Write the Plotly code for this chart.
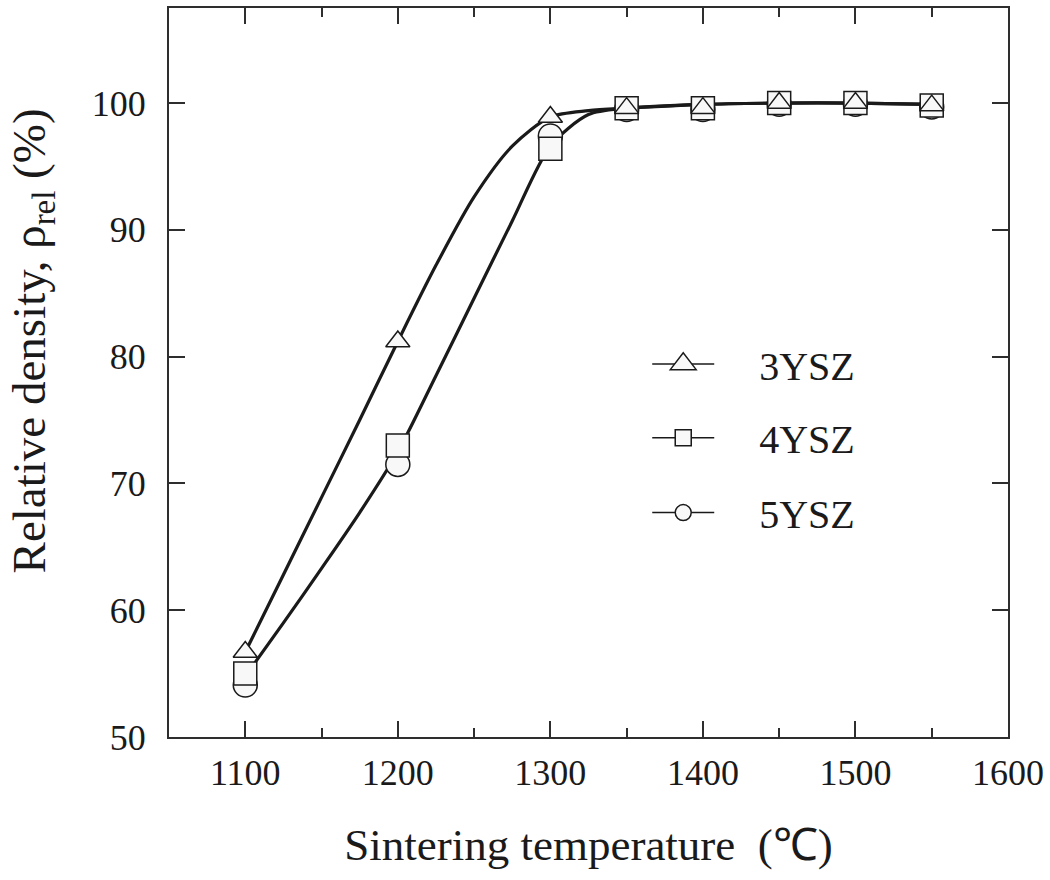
import plotly.graph_objects as go

# ---- data ----
temps = [1100, 1200, 1300, 1350, 1400, 1450, 1500, 1550]
ysz3 = [56.7, 81.2, 98.9, 99.6, 99.6, 100.0, 100.0, 99.8]
ysz4 = [55.0, 73.0, 96.4, 99.6, 99.6, 100.0, 100.0, 99.8]
ysz5 = [54.1, 71.5, 97.4, 99.5, 99.5, 99.9, 99.9, 99.7]

# smooth guide curves
curve_t = [1100, 1125, 1150, 1175, 1200, 1225, 1250, 1275, 1300, 1325, 1350, 1400, 1450, 1500, 1550]
curve_upper = [56.7, 62.8, 68.9, 75.0, 81.2, 87.2, 92.6, 96.6, 98.9, 99.4, 99.6, 99.9, 100.0, 100.0, 99.9]
curve_lower = [54.8, 59.0, 63.3, 67.7, 72.5, 78.5, 84.6, 90.7, 96.6, 99.1, 99.6, 99.9, 100.0, 100.0, 99.9]

x_ticks = [1100, 1200, 1300, 1400, 1500, 1600]
x_minor = [1150, 1250, 1350, 1450, 1550]
y_ticks = [50, 60, 70, 80, 90, 100]

FONT = "Liberation Serif, Times New Roman, serif"
INK = "#1a1a1a"
AX = "#2e2e2e"
FILL = "#f8f8f8"
NB = "\u00a0" * 4

fig = go.Figure()

for yv in (curve_upper, curve_lower):
    fig.add_trace(go.Scatter(
        x=curve_t, y=yv, mode="lines",
        line=dict(color=INK, width=3.2, shape="spline", smoothing=0.8),
        showlegend=False, hoverinfo="skip"))

series = [
    ("5YSZ", ysz5, "circle", 24, "legend3"),
    ("4YSZ", ysz4, "square", 23, "legend2"),
    ("3YSZ", ysz3, "triangle-up", 21, "legend"),
]
for name, yv, sym, sz, lg in series:
    fig.add_trace(go.Scatter(
        x=temps, y=yv, mode="markers", name=name,
        marker=dict(symbol=sym, size=sz, color=FILL, line=dict(color=INK, width=1.5)),
        showlegend=False))
    # legend entry (line + marker)
    fig.add_trace(go.Scatter(
        x=[None], y=[None], mode="lines+markers", name=NB + name, legend=lg,
        line=dict(color=INK, width=1.5),
        marker=dict(symbol=sym, size=sz, color=FILL, line=dict(color=INK, width=1.5))))

axis_common = dict(
    showline=True, linecolor=AX, linewidth=2, mirror="ticks",
    ticks="inside", ticklen=16, tickwidth=2, tickcolor=AX,
    showgrid=False, zeroline=False,
    tickfont=dict(family=FONT, size=36, color=INK),
)

fig.update_xaxes(
    range=[1050, 1600], tickvals=x_ticks, ticktext=[str(v) for v in x_ticks],
    minor=dict(tickvals=x_minor, ticks="inside", ticklen=9, tickwidth=2, tickcolor=AX),
    ticklabelstandoff=3,
    title=dict(text="Sintering temperature  (℃)", font=dict(family=FONT, size=45, color=INK), standoff=36),
    **axis_common)
fig.update_yaxes(
    range=[50, 107.5], tickvals=y_ticks, ticktext=[str(v) for v in y_ticks],
    ticklabelstandoff=14,
    **axis_common)

fig.add_annotation(
    text="Relative density, ρ<sub>rel</sub> (%)", textangle=-90,
    xref="paper", yref="paper", x=-0.163, y=0.543, xanchor="center", yanchor="middle",
    showarrow=False, font=dict(family=FONT, size=47, color=INK))

leg_font = dict(family=FONT, size=40, color=INK)
leg_common = dict(font=leg_font, bgcolor="rgba(0,0,0,0)", borderwidth=0, itemwidth=62,
                  xanchor="left", yanchor="middle", x=0.57)
fig.update_layout(
    legend=dict(y=0.5116, **leg_common),
    legend2=dict(y=0.4104, **leg_common),
    legend3=dict(y=0.3078, **leg_common),
    width=1050, height=880,
    margin=dict(l=169, r=38, t=6, b=143),
    paper_bgcolor="white", plot_bgcolor="white",
)

post = """
document.body.style.margin='0';
document.querySelectorAll('.legend .legendpoints path.scatterpts').forEach(function(el){
  var t = el.getAttribute('transform') || '';
  el.setAttribute('transform', t + ' scale(1.4)');
  el.setAttribute('vector-effect', 'non-scaling-stroke');
});
"""
fig.write_html("out.html", post_script=post, config={"displayModeBar": False})
